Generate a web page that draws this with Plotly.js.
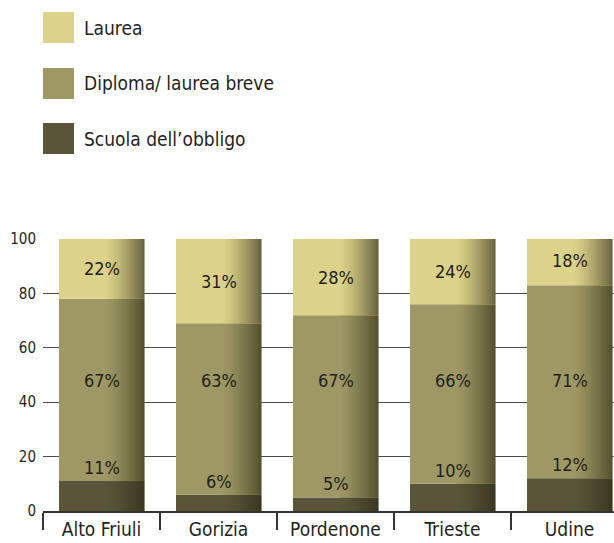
<!DOCTYPE html>
<html>
<head>
<meta charset="utf-8">
<script src="https://cdn.plot.ly/plotly-3.0.1.min.js"></script>
<style>html,body{margin:0;padding:0;background:#fff;}#chart{width:614px;height:543px;}</style>
</head>
<body>
<div id="chart"></div>
<script>
// ---- data ----
var categories = ["Alto Friuli", "Gorizia", "Pordenone", "Trieste", "Udine"];
var seriesNames = ["Scuola dell\u2019obbligo", "Diploma/ laurea breve", "Laurea"];
var scuola = [11, 6, 5, 10, 12];
var diploma = [67, 63, 67, 66, 71];
var laurea = [22, 31, 28, 24, 18];
var yTicks = [0, 20, 40, 60, 80, 100];

// ---- style ----
var FONT = '"DejaVu Sans Condensed", "Liberation Sans Narrow", sans-serif';
var baseColors = ["#5a5538", "#9e9865", "#ddd289"];
var darkColors = ["#3b3822", "#55512f", "#6a6540"];
var W = 614, H = 543;
var L = 43, R = 0, T = 239, B = 32;
var plotW = W - L - R, plotH = H - T - B;
var catPx = 117;
var barW = 85 / catPx;

function hex2rgb(h){return [parseInt(h.substr(1,2),16),parseInt(h.substr(3,2),16),parseInt(h.substr(5,2),16)];}
function mix(a,b,t){var A=hex2rgb(a),B2=hex2rgb(b);return 'rgb('+A.map(function(v,i){return Math.round(v+(B2[i]-v)*t);}).join(',')+')';}

var seriesVals = [scuola, diploma, laurea];
var bases = [];
var cum = categories.map(function(){return 0;});
seriesVals.forEach(function(v){bases.push(cum.slice()); cum = cum.map(function(c,i){return c+v[i];});});

var traces = [];
var nStrips = 20, flatFrac = 0.55;
seriesVals.forEach(function(vals, s){
  traces.push({
    type:'bar', x:categories, y:vals, base:bases[s], name:seriesNames[s],
    width:barW, offset:-barW/2, marker:{color:baseColors[s], line:{width:0}},
    showlegend:false, hoverinfo:'skip'
  });
  for (var k=0;k<nStrips;k++){
    var f0 = flatFrac + (1-flatFrac)*k/nStrips;
    var t = Math.pow((k+1)/nStrips, 1.4);
    traces.push({
      type:'bar', x:categories, y:vals, base:bases[s],
      width:barW*(1-flatFrac)/nStrips*1.3, offset:-barW/2 + barW*f0,
      marker:{color:mix(baseColors[s], darkColors[s], t), line:{width:0}},
      showlegend:false, hoverinfo:'skip'
    });
  }
});

// ---- annotations (value labels) ----
var annotations = [];
var lblFont = {family:FONT, size:18, color:'#231f20'};
categories.forEach(function(c,i){
  annotations.push({x:c, y:scuola[i], yanchor:'bottom', yshift:1, text:scuola[i]+'%', showarrow:false, font:lblFont});
  annotations.push({x:c, y:48, yanchor:'middle', text:diploma[i]+'%', showarrow:false, font:lblFont});
  annotations.push({x:c, y:bases[2][i] + laurea[i]/2, yanchor:'middle', text:laurea[i]+'%', showarrow:false, font:lblFont});
});

// ---- legend drawn as shapes + annotations ----
function px2x(px){return (px - L)/plotW;}
function px2y(py){return (H - B - py)/plotH;}
var shapes = [];
var legendOrder = [2,1,0];
var legendTops = [12, 68, 123];
legendOrder.forEach(function(s, j){
  var top = legendTops[j];
  shapes.push({type:'rect', xref:'paper', yref:'paper', x0:px2x(43), x1:px2x(74), y0:px2y(top+31), y1:px2y(top),
    fillcolor:baseColors[s], line:{width:0}});
  annotations.push({xref:'paper', yref:'paper', x:px2x(82), y:px2y(top+15.5), xanchor:'left', yanchor:'middle',
    text:seriesNames[s], showarrow:false, font:{family:FONT, size:19, color:'#231f20'}});
});

var layout = {
  width:W, height:H, margin:{l:L, r:R, t:T, b:B, pad:0},
  paper_bgcolor:'#fff', plot_bgcolor:'#fff',
  barmode:'overlay', showlegend:false,
  font:{family:FONT, color:'#231f20'},
  xaxis:{type:'category', range:[-0.5, -0.5 + plotW/catPx], showline:true, linecolor:'#333', linewidth:1.5,
    ticks:'outside', tickson:'boundaries', ticklen:17, tickcolor:'#333', tickwidth:1.5,
    ticklabelstandoff:1, showgrid:false, tickfont:{family:FONT, size:19, color:'#231f20'}, fixedrange:true},
  yaxis:{range:[0,100], tickvals:yTicks, ticktext:yTicks.map(String), showgrid:true, gridcolor:'#4a4a4a', gridwidth:1,
    zeroline:false, showline:false, ticks:'', ticklabelstandoff:6,
    tickfont:{family:FONT, size:15, color:'#231f20'}, fixedrange:true},
  shapes:shapes, annotations:annotations
};
Plotly.newPlot('chart', traces, layout, {staticPlot:true, displayModeBar:false});
</script>
</body>
</html>
